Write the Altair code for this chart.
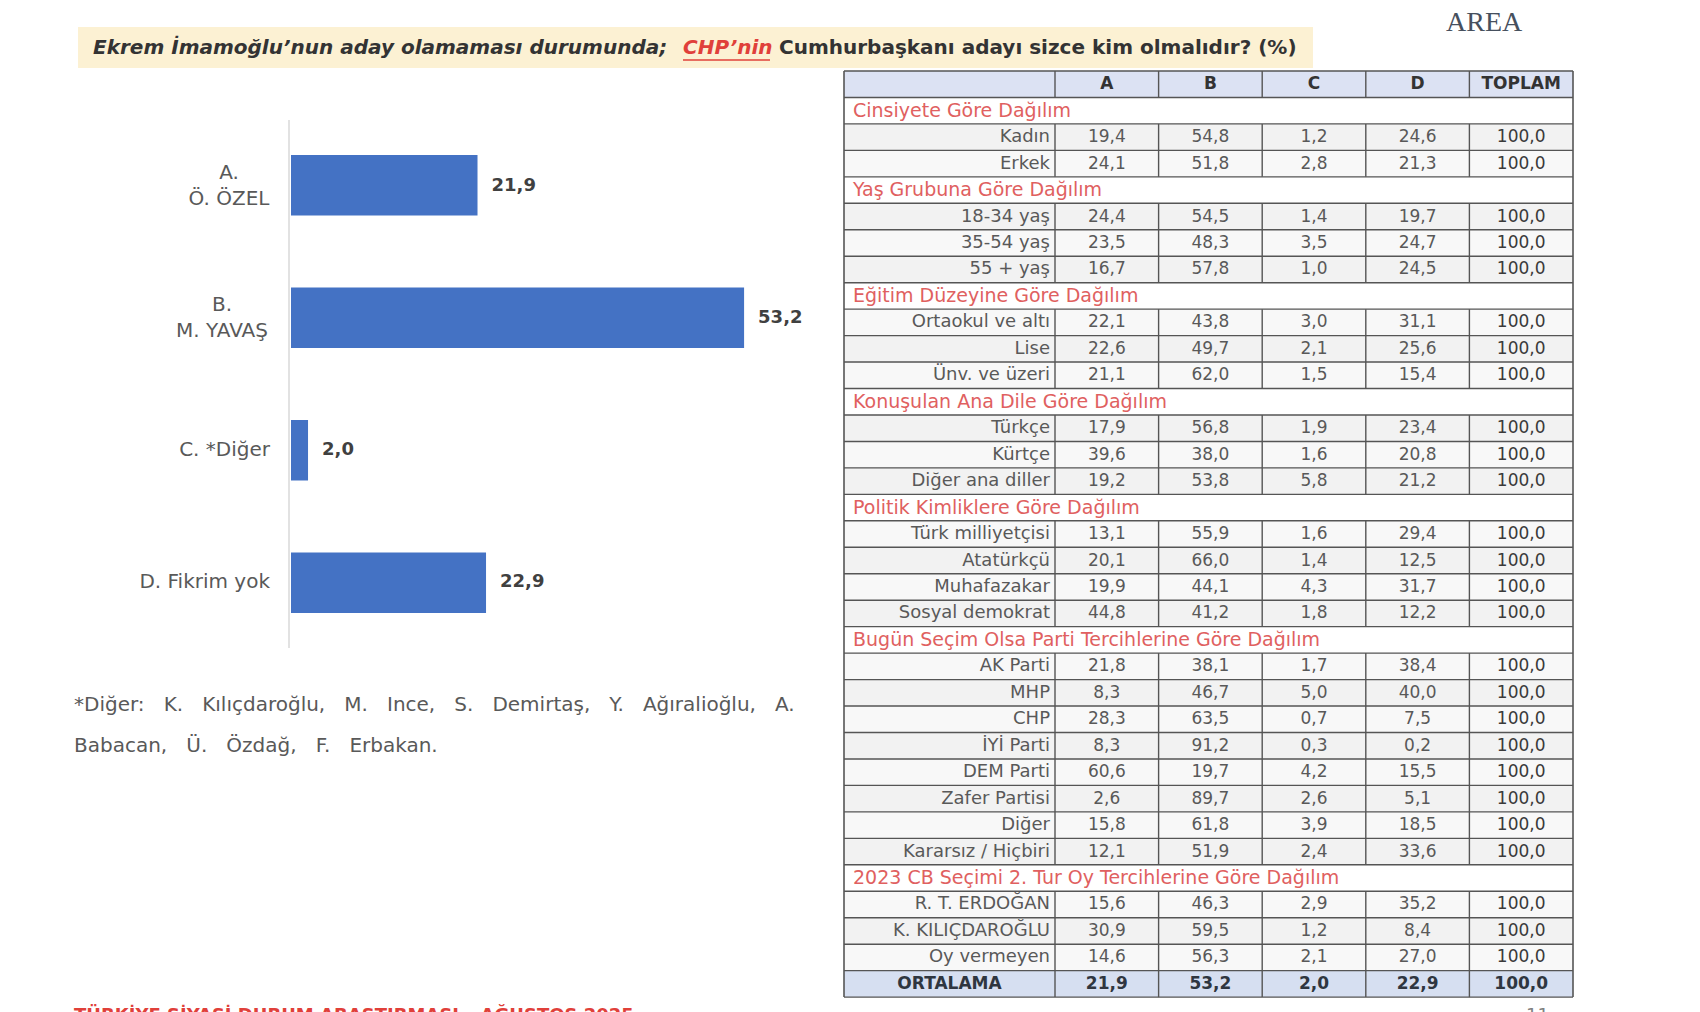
import altair as alt
import pandas as pd

# ---------------- data ----------------
title_part1 = "Ekrem İmamoğlu’nun aday olamaması durumunda;"
title_part2 = "CHP’nin"
title_part3 = "Cumhurbaşkanı adayı sizce kim olmalıdır? (%)"
footnote_1 = "*Diğer: K. Kılıçdaroğlu, M. Ince, S. Demirtaş, Y. Ağıralioğlu, A."
footnote_2 = "Babacan, Ü. Özdağ, F. Erbakan."
bottom_text = "TÜRKİYE SİYASİ DURUM ARAŞTIRMASI – AĞUSTOS 2025"
logo_text = "AREA"
page_no = "11"

bar_codes = ["A", "B", "C", "D"]
bar_line1 = ["A.", "B.", "", ""]
bar_line2 = ["Ö. ÖZEL", "M. YAVAŞ", "C. *Diğer", "D. Fikrim yok"]
bar_values = [21.9, 53.2, 2.0, 22.9]

table_cols = ["A", "B", "C", "D", "TOPLAM"]
section_titles = [
    "Cinsiyete Göre Dağılım",
    "Yaş Grubuna Göre Dağılım",
    "Eğitim Düzeyine Göre Dağılım",
    "Konuşulan Ana Dile Göre Dağılım",
    "Politik Kimliklere Göre Dağılım",
    "Bugün Seçim Olsa Parti Tercihlerine Göre Dağılım",
    "2023 CB Seçimi 2. Tur Oy Tercihlerine Göre Dağılım",
]
section_sizes = [2, 3, 3, 3, 4, 8, 3]
row_labels = [
    "Kadın", "Erkek",
    "18-34 yaş", "35-54 yaş", "55 + yaş",
    "Ortaokul ve altı", "Lise", "Ünv. ve üzeri",
    "Türkçe", "Kürtçe", "Diğer ana diller",
    "Türk milliyetçisi", "Atatürkçü", "Muhafazakar", "Sosyal demokrat",
    "AK Parti", "MHP", "CHP", "İYİ Parti", "DEM Parti", "Zafer Partisi", "Diğer", "Kararsız / Hiçbiri",
    "R. T. ERDOĞAN", "K. KILIÇDAROĞLU", "Oy vermeyen",
]
col_A = [19.4, 24.1, 24.4, 23.5, 16.7, 22.1, 22.6, 21.1, 17.9, 39.6, 19.2,
         13.1, 20.1, 19.9, 44.8, 21.8, 8.3, 28.3, 8.3, 60.6, 2.6, 15.8, 12.1,
         15.6, 30.9, 14.6]
col_B = [54.8, 51.8, 54.5, 48.3, 57.8, 43.8, 49.7, 62.0, 56.8, 38.0, 53.8,
         55.9, 66.0, 44.1, 41.2, 38.1, 46.7, 63.5, 91.2, 19.7, 89.7, 61.8, 51.9,
         46.3, 59.5, 56.3]
col_C = [1.2, 2.8, 1.4, 3.5, 1.0, 3.0, 2.1, 1.5, 1.9, 1.6, 5.8,
         1.6, 1.4, 4.3, 1.8, 1.7, 5.0, 0.7, 0.3, 4.2, 2.6, 3.9, 2.4,
         2.9, 1.2, 2.1]
col_D = [24.6, 21.3, 19.7, 24.7, 24.5, 31.1, 25.6, 15.4, 23.4, 20.8, 21.2,
         29.4, 12.5, 31.7, 12.2, 38.4, 40.0, 7.5, 0.2, 15.5, 5.1, 18.5, 33.6,
         35.2, 8.4, 27.0]
col_TOPLAM = [100.0, 100.0, 100.0, 100.0, 100.0, 100.0, 100.0, 100.0, 100.0,
              100.0, 100.0, 100.0, 100.0, 100.0, 100.0, 100.0, 100.0, 100.0,
              100.0, 100.0, 100.0, 100.0, 100.0, 100.0, 100.0, 100.0]
avg_label = "ORTALAMA"
avg_values = [21.9, 53.2, 2.0, 22.9, 100.0]


def fmt(v):
    return f"{v:.1f}".replace(".", ",")


# ---------------- tables for the library ----------------
bar_df = pd.DataFrame({
    "code": bar_codes, "l1": bar_line1, "l2": bar_line2,
    "val": bar_values, "lab": [fmt(v) for v in bar_values],
})
bar_df["full"] = [(a + "\n" + b) if a else b for a, b in zip(bar_line1, bar_line2)]

value_cols = [col_A, col_B, col_C, col_D, col_TOPLAM]
rows, cells = [], []
rows.append(dict(r=0, kind="header", label=""))
for c in table_cols:
    cells.append(dict(r=0, col=c, txt=c, kind="header"))
r, k = 1, 0
for s, n in zip(section_titles, section_sizes):
    rows.append(dict(r=r, kind="section", label=s))
    r += 1
    for _ in range(n):
        rows.append(dict(r=r, kind="data_a" if k % 2 == 0 else "data_b", label=row_labels[k]))
        for c, vals in zip(table_cols, value_cols):
            cells.append(dict(r=r, col=c, txt=fmt(vals[k]), kind="tot" if c == "TOPLAM" else "data"))
        r += 1
        k += 1
rows.append(dict(r=r, kind="total", label=avg_label))
for c, v in zip(table_cols, avg_values):
    cells.append(dict(r=r, col=c, txt=fmt(v), kind="total"))
NROWS = r + 1

rows_df = pd.DataFrame(rows)
rows_df["r2"] = rows_df["r"] + 1
rows_df["ym"] = rows_df["r"] + 0.5
cells_df = pd.DataFrame(cells)
cells_df["r2"] = cells_df["r"] + 1
cells_df["ym"] = cells_df["r"] + 0.5
bounds_df = pd.DataFrame({"b": list(range(NROWS + 1))})
vl_df = cells_df[["r", "r2", "col"]].copy()
edge_df = pd.DataFrame({"r": [0], "r2": [NROWS], "col": ["TOPLAM"]})

# justified-looking footnote (wider word gaps, same words)
NB = "\u00a0"
foot1_disp = footnote_1.replace(" ", NB + NB + " ")
foot2_disp = footnote_2.replace(" ", NB + NB + " ")

# ---------------- layout / style ----------------
FONT = "DejaVu Sans"
T_LEFT, T_LAB, T_RIGHT = 836, 1047, 1565
T_TOP, ROW_H = 63, 26.46
y_tab = alt.Scale(domain=[0, NROWS], range=[T_TOP, T_TOP + NROWS * ROW_H], nice=False, zero=False)
x_tab = alt.Scale(domain=table_cols, range=[T_LAB, T_RIGHT], paddingInner=0, paddingOuter=0)
y_bar = alt.Scale(domain=bar_codes, range=[112, 640], paddingInner=0.545, paddingOuter=0.265)
x_bar = alt.Scale(domain=[0, 60], range=[283, 794], nice=False, zero=True)

GRID = "#555555"
one = pd.DataFrame({"k": [0]})
layers = []

# title banner
layers.append(alt.Chart(one).mark_rect(color="#FCF1D3").encode(
    x=alt.value(70), x2=alt.value(1305), y=alt.value(19), y2=alt.value(60)))
layers.append(alt.Chart(pd.DataFrame({"t": [title_part1]})).mark_text(
    align="left", baseline="middle", font=FONT, fontSize=20, fontWeight="bold",
    fontStyle="italic", color="#333333").encode(x=alt.value(85), y=alt.value(40), text="t:N"))
layers.append(alt.Chart(pd.DataFrame({"t": [title_part2]})).mark_text(
    align="left", baseline="middle", font=FONT, fontSize=20, fontWeight="bold",
    fontStyle="italic", color="#E0403A").encode(x=alt.value(675), y=alt.value(40), text="t:N"))
layers.append(alt.Chart(one).mark_rule(color="#E0403A", strokeWidth=1.6).encode(
    x=alt.value(675), x2=alt.value(762), y=alt.value(52)))
layers.append(alt.Chart(pd.DataFrame({"t": [title_part3]})).mark_text(
    align="left", baseline="middle", font=FONT, fontSize=20, fontWeight="bold",
    color="#333333").encode(x=alt.value(771), y=alt.value(40), text="t:N"))

# logo
layers.append(alt.Chart(pd.DataFrame({"t": [logo_text]})).mark_text(
    align="left", baseline="middle", font="Liberation Serif", fontSize=28,
    color="#46505E").encode(x=alt.value(1438), y=alt.value(15), text="t:N"))

# bar chart
layers.append(alt.Chart(one).mark_rule(color="#D9D9D9", strokeWidth=1.5).encode(
    x=alt.value(281), y=alt.value(112), y2=alt.value(640)))
layers.append(alt.Chart(bar_df).mark_bar(color="#4472C4").encode(
    y=alt.Y("code:N", scale=y_bar, axis=None),
    x=alt.X("val:Q", scale=x_bar, axis=None)))
layers.append(alt.Chart(bar_df).mark_text(
    align="left", baseline="middle", dx=14, font=FONT, fontSize=18, fontWeight="bold",
    color="#404040").encode(
    y=alt.Y("code:N", scale=y_bar, axis=None),
    x=alt.X("val:Q", scale=x_bar, axis=None), text="lab:N"))
layers.append(alt.Chart(bar_df).transform_filter("datum.l1 == ''").mark_text(
    align="right", baseline="middle", font=FONT, fontSize=20, color="#595959").encode(
    y=alt.Y("code:N", scale=y_bar, axis=None), x=alt.value(262), text="full:N"))
for code, half in (("A", 41), ("B", 48)):
    layers.append(alt.Chart(bar_df).transform_filter(f"datum.code == '{code}'").mark_text(
        align="center", baseline="middle", dx=-half, dy=-13, lineBreak="\n", lineHeight=26,
        font=FONT, fontSize=20, color="#595959").encode(
        y=alt.Y("code:N", scale=y_bar, axis=None), x=alt.value(262), text="full:N"))

# footnote
layers.append(alt.Chart(pd.DataFrame({"t": [foot1_disp]})).mark_text(
    align="left", baseline="middle", font=FONT, fontSize=20, color="#595959").encode(
    x=alt.value(66), y=alt.value(697), text="t:N"))
layers.append(alt.Chart(pd.DataFrame({"t": [foot2_disp]})).mark_text(
    align="left", baseline="middle", font=FONT, fontSize=20, color="#595959").encode(
    x=alt.value(66), y=alt.value(738), text="t:N"))
layers.append(alt.Chart(pd.DataFrame({"t": [bottom_text]})).mark_text(
    align="left", baseline="top", font=FONT, fontSize=18, fontWeight="bold", color="#E0403A").encode(
    x=alt.value(66), y=alt.value(999), text="t:N"))
layers.append(alt.Chart(pd.DataFrame({"t": [page_no]})).mark_text(
    align="left", baseline="top", font=FONT, fontSize=18, color="#808080").encode(
    x=alt.value(1518), y=alt.value(999), text="t:N"))

# table backgrounds
layers.append(alt.Chart(rows_df).mark_rect().encode(
    y=alt.Y("r:Q", scale=y_tab, axis=None), y2="r2:Q",
    x=alt.value(T_LEFT), x2=alt.value(T_RIGHT),
    color=alt.Color("kind:N", legend=None, scale=alt.Scale(
        domain=["header", "section", "data_a", "data_b", "total"],
        range=["#DCE2F3", "#FFFFFF", "#F2F2F2", "#F8F8F8", "#D6DFF1"]))))
# horizontal grid lines
layers.append(alt.Chart(bounds_df).mark_rule(color=GRID, strokeWidth=1.4).encode(
    y=alt.Y("b:Q", scale=y_tab, axis=None), x=alt.value(T_LEFT), x2=alt.value(T_RIGHT)))
# vertical grid lines (not across section rows)
layers.append(alt.Chart(vl_df).mark_rule(color=GRID, strokeWidth=1.4).encode(
    x=alt.X("col:N", scale=x_tab, axis=None, bandPosition=0),
    y=alt.Y("r:Q", scale=y_tab, axis=None), y2="r2:Q"))
layers.append(alt.Chart(edge_df).mark_rule(color=GRID, strokeWidth=1.6).encode(
    x=alt.X("col:N", scale=x_tab, axis=None, bandPosition=1),
    y=alt.Y("r:Q", scale=y_tab, axis=None), y2="r2:Q"))
layers.append(alt.Chart(edge_df).mark_rule(color=GRID, strokeWidth=1.6).encode(
    x=alt.value(T_LEFT), y=alt.Y("r:Q", scale=y_tab, axis=None), y2="r2:Q"))

# section titles
layers.append(alt.Chart(rows_df).transform_filter("datum.kind == 'section'").mark_text(
    align="left", baseline="middle", font=FONT, fontSize=19, color="#E06060").encode(
    y=alt.Y("ym:Q", scale=y_tab, axis=None), x=alt.value(T_LEFT + 9), text="label:N"))
# row labels
layers.append(alt.Chart(rows_df).transform_filter("indexof(datum.kind, 'data') == 0").mark_text(
    align="right", baseline="middle", font=FONT, fontSize=18, color="#595959").encode(
    y=alt.Y("ym:Q", scale=y_tab, axis=None), x=alt.value(T_LAB - 5), text="label:N"))
layers.append(alt.Chart(rows_df).transform_filter("datum.kind == 'total'").mark_text(
    align="center", baseline="middle", font=FONT, fontSize=17, fontWeight="bold", color="#2F3640").encode(
    y=alt.Y("ym:Q", scale=y_tab, axis=None), x=alt.value((T_LEFT + T_LAB) / 2), text="label:N"))
# cell values
for kind, color, weight in (("header", "#333333", "bold"), ("data", "#595959", "normal"),
                            ("tot", "#3A3A3A", "normal"), ("total", "#2F3640", "bold")):
    layers.append(alt.Chart(cells_df).transform_filter(f"datum.kind == '{kind}'").mark_text(
        align="center", baseline="middle", font=FONT, fontSize=17, fontWeight=weight, color=color).encode(
        x=alt.X("col:N", scale=x_tab, axis=None),
        y=alt.Y("ym:Q", scale=y_tab, axis=None), text="txt:N"))

chart = alt.layer(*layers).resolve_scale(
    x="independent", y="independent", color="independent"
).properties(
    width=1600, height=1010, padding=0, autosize=alt.AutoSizeParams(type="none")
).configure_view(stroke=None)

chart.save("out.html", embed_options={"renderer": "svg", "actions": False})
